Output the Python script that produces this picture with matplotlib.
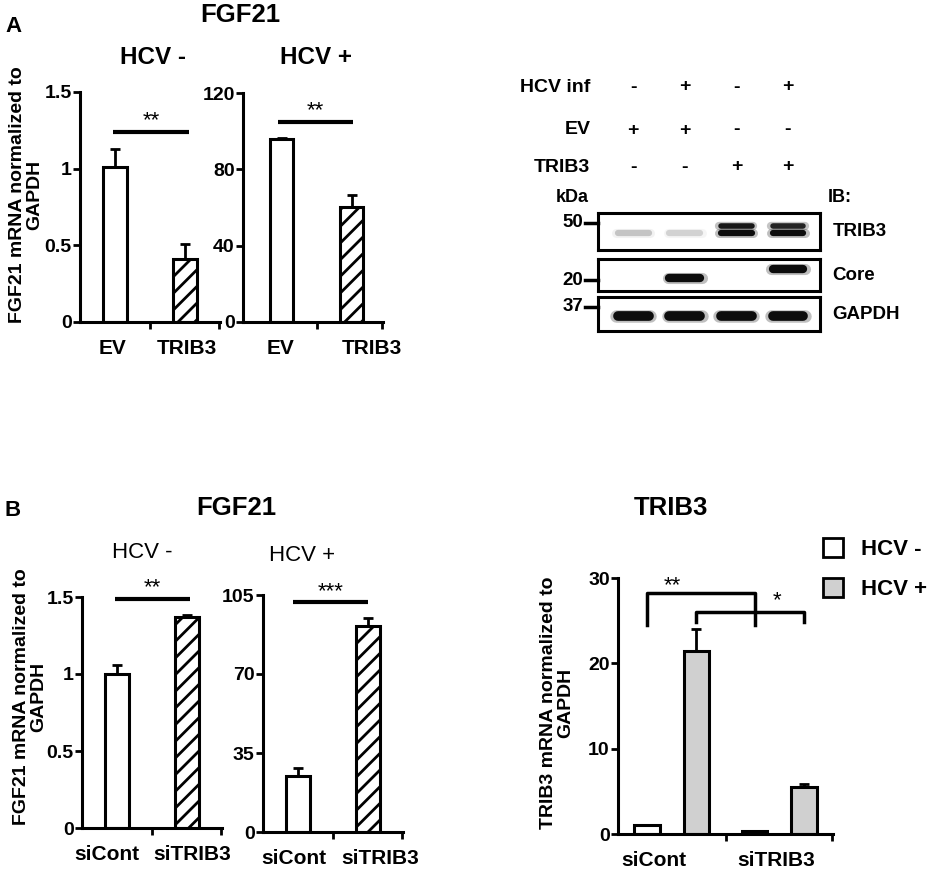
import matplotlib
matplotlib.use("Agg")
import matplotlib.pyplot as plt
from matplotlib.patches import Patch

plt.rcParams['font.family'] = ['Liberation Sans', 'DejaVu Sans']
plt.rcParams['font.weight'] = 'bold'
plt.rcParams['hatch.linewidth'] = 2.0

# ---- data ----
a_cats = ["EV", "TRIB3"]
a_neg_vals = [1.01, 0.41]
a_neg_err = [0.12, 0.10]
a_pos_vals = [96.0, 60.4]
a_pos_err = [0.6, 6.0]

b_cats = ["siCont", "siTRIB3"]
b_neg_vals = [1.0, 1.37]
b_neg_err = [0.06, 0.015]
b_pos_vals = [24.6, 91.2]
b_pos_err = [3.6, 3.4]

trib3_cats = ["siCont", "siTRIB3"]
trib3_neg = [1.0, 0.3]
trib3_neg_err = [0.08, 0.05]
trib3_pos = [21.4, 5.5]
trib3_pos_err = [2.6, 0.4]

# western blot: header rows and band intensities per lane
blot_rows = ["HCV inf", "EV", "TRIB3"]
blot_signs = [["-", "+", "-", "+"],
              ["+", "+", "-", "-"],
              ["-", "-", "+", "+"]]
trib3_upper = [0.0, 0.0, 0.95, 0.9]
trib3_lower = [0.2, 0.14, 1.0, 1.0]
core_band = [0.0, 1.0, 0.0, 1.0]
gapdh_band = [1.0, 1.0, 1.0, 1.0]
markers = ["50", "20", "37"]
blot_names = ["TRIB3", "Core", "GAPDH"]

W, H = 935, 871
fig = plt.figure(figsize=(W / 100, H / 100), dpi=100)


def px_axes(l, t, r, b):
    return fig.add_axes([l / W, 1 - b / H, (r - l) / W, (b - t) / H])


def fx(x):
    return x / W


def fy(y):
    return 1 - y / H


LW = 2.2
TICK_FS = 14
CAT_FS = 15


def style(ax, ymax, yticks, cats, labpos, xlim=(0, 2)):
    ax.set_xlim(*xlim)
    ax.set_ylim(0, ymax)
    for s in ["top", "right"]:
        ax.spines[s].set_visible(False)
    for s in ["left", "bottom"]:
        ax.spines[s].set_linewidth(LW)
    ax.set_yticks(yticks)
    ax.set_yticklabels([("%g" % t) for t in yticks], fontsize=TICK_FS, fontweight='bold')
    ax.tick_params(axis='y', direction='out', length=5, width=2, pad=1)
    ax.set_xticks(labpos)
    ax.set_xticklabels(cats, fontsize=CAT_FS, fontweight='bold')
    ax.tick_params(axis='x', which='major', length=0, pad=12)
    ax.set_xticks([1, xlim[1] - 0.01], minor=True)
    ax.tick_params(axis='x', which='minor', direction='out', length=5, width=2)
    ax.patch.set_alpha(0)


def fgf_panel(ax, vals, errs, ymax, yticks, cats, labpos, sig_y, sig_x, stars, star_y,
              xlim=(0, 2)):
    xpos = [0.5, 1.5]
    ax.bar(xpos, vals, width=0.33, color='white', edgecolor='black', linewidth=LW,
           hatch=['', '//'], zorder=2)
    ax.errorbar(xpos, vals, yerr=[[0, 0], errs], fmt='none', ecolor='black',
                elinewidth=2, capsize=3.5, capthick=2, zorder=1)
    ax.plot(sig_x, [sig_y, sig_y], color='black', lw=3, clip_on=False, solid_capstyle='butt')
    ax.text(sum(sig_x) / 2, star_y, stars, ha='center', va='center', fontsize=16,
            fontweight='normal', clip_on=False)
    style(ax, ymax, yticks, cats, labpos, xlim)


# ---- panel A bars ----
ax1 = px_axes(80, 92, 220, 322)
fgf_panel(ax1, a_neg_vals, a_neg_err, 1.5, [0, 0.5, 1, 1.5], a_cats, [0.46, 1.53],
          1.24, [0.47, 1.56], "**", 1.31)
ax2 = px_axes(243, 93, 383, 322)
fgf_panel(ax2, a_pos_vals, a_pos_err, 120, [0, 40, 80, 120], a_cats, [0.49, 1.79],
          105, [0.45, 1.52], "**", 110.5, xlim=(-0.05, 1.95))

# ---- panel B bars ----
ax3 = px_axes(82, 597, 222, 828)
fgf_panel(ax3, b_neg_vals, b_neg_err, 1.5, [0, 0.5, 1, 1.5], b_cats, [0.36, 1.57],
          1.49, [0.47, 1.54], "**", 1.56)
ax4 = px_axes(263, 595, 403, 832)
fgf_panel(ax4, b_pos_vals, b_pos_err, 105, [0, 35, 70, 105], b_cats, [0.44, 1.67],
          102, [0.43, 1.5], "***", 106.5)

# ---- TRIB3 grouped bars ----
ax5 = px_axes(618, 578, 833, 834)
centers = [0.5, 1.5]
off = 0.23
xn = [c - off for c in centers]
xp = [c + off for c in centers]
ax5.bar(xn, trib3_neg, width=0.24, color='white', edgecolor='black', linewidth=LW, zorder=2)
ax5.bar(xp, trib3_pos, width=0.24, color='#d0d0d0', edgecolor='black', linewidth=LW, zorder=2)
ax5.errorbar(xn, trib3_neg, yerr=[[0, 0], trib3_neg_err], fmt='none', ecolor='black',
             elinewidth=2, capsize=3.5, capthick=2, zorder=1)
ax5.errorbar(xp, trib3_pos, yerr=[[0, 0], trib3_pos_err], fmt='none', ecolor='black',
             elinewidth=2, capsize=3.5, capthick=2, zorder=1)
# significance brackets
ax5.plot([xn[0], xn[0], xn[1], xn[1]], [24.5, 28.2, 28.2, 24.5], color='black', lw=2.5)
ax5.plot([xp[0], xp[0], xp[1], xp[1]], [24.8, 26.0, 26.0, 24.8], color='black', lw=2.5)
ax5.text(0.51, 29.1, "**", ha='center', va='center', fontsize=16, fontweight='normal', clip_on=False)
ax5.text(1.48, 27.3, "*", ha='center', va='center', fontsize=16, fontweight='normal')
style(ax5, 30, [0, 10, 20, 30], trib3_cats, [0.33, 1.47])

fig.legend(handles=[Patch(facecolor='white', edgecolor='black', linewidth=2),
                    Patch(facecolor='#d0d0d0', edgecolor='black', linewidth=2)],
           labels=["HCV -", "HCV +"], loc='upper left',
           bbox_to_anchor=(fx(823), fy(538)), frameon=False, borderpad=0, borderaxespad=0,
           handlelength=0.9, handleheight=0.95, labelspacing=0.8, handletextpad=0.8,
           prop={'weight': 'bold', 'size': 16})

# ---- y labels ----
YL_FS = 14
fig.text(fx(26), fy(195), "FGF21 mRNA normalized to\nGAPDH", rotation=90, ha='center',
         va='center', fontsize=YL_FS, fontweight='bold', linespacing=1.05)
fig.text(fx(30), fy(697), "FGF21 mRNA normalized to\nGAPDH", rotation=90, ha='center',
         va='center', fontsize=YL_FS, fontweight='bold', linespacing=1.05)
fig.text(fx(557), fy(703), "TRIB3 mRNA normalized to\nGAPDH", rotation=90, ha='center',
         va='center', fontsize=YL_FS, fontweight='bold', linespacing=1.05)

# ---- titles ----
fig.text(fx(13), fy(27), "A", ha='center', va='center', fontsize=16, fontweight='bold')
fig.text(fx(13), fy(510), "B", ha='center', va='center', fontsize=16, fontweight='bold')
fig.text(fx(240), fy(15), "FGF21", ha='center', va='center', fontsize=18.5, fontweight='bold')
fig.text(fx(236), fy(508), "FGF21", ha='center', va='center', fontsize=18.5, fontweight='bold')
fig.text(fx(671), fy(508), "TRIB3", ha='center', va='center', fontsize=18.5, fontweight='bold')
fig.text(fx(153), fy(57), "HCV -", ha='center', va='center', fontsize=17.5, fontweight='bold')
fig.text(fx(316), fy(58), "HCV +", ha='center', va='center', fontsize=17.5, fontweight='bold')
fig.text(fx(142), fy(553), "HCV -", ha='center', va='center', fontsize=16, fontweight='normal')
fig.text(fx(302), fy(555), "HCV +", ha='center', va='center', fontsize=16, fontweight='normal')

# ---- western blot ----
lanes = [1, 2, 3, 4]
bxlim = (0.32, 4.62)
hdr = px_axes(598, 70, 820, 205)
hdr.set_xlim(*bxlim)
hdr.set_ylim(205, 70)
hdr.axis('off')
for row_y, name, signs in zip([87, 130, 167], blot_rows, blot_signs):
    hdr.text(0.17, row_y, name, ha='right', va='center', fontsize=14, fontweight='bold')
    for ln, s in zip(lanes, signs):
        hdr.text(ln, row_y, s, ha='center', va='center', fontsize=14, fontweight='bold')
hdr.text(0.14, 198, "kDa", ha='right', va='center', fontsize=13, fontweight='bold')
hdr.text(4.77, 198, "IB:", ha='left', va='center', fontsize=13, fontweight='bold')

strips = [(213, 250), (259, 291), (297, 331)]
strip_bands = [[(trib3_upper, 0.64, 4), (trib3_lower, 0.47, 4.5)],
               [(core_band, None, 6)],
               [(gapdh_band, 0.43, 7)]]
core_y = [0.42, 0.42, 0.42, 0.69]
marker_y = [0.73, 0.34, 0.71]
for (t, b), bands, mk, my, nm in zip(strips, strip_bands, markers, marker_y, blot_names):
    ax = px_axes(598, t, 820, b)
    ax.set_xlim(*bxlim)
    ax.set_ylim(0, 1)
    ax.set_xticks([])
    ax.set_yticks([])
    for s in ax.spines.values():
        s.set_linewidth(LW)
    for inten, yy, bw in bands:
        for ln, v in zip(lanes, inten):
            if v <= 0:
                continue
            y0 = yy if yy is not None else core_y[ln - 1]
            g = 1 - v
            ax.plot([ln - 0.33, ln + 0.33], [y0, y0], color=(g, g, g), lw=bw + 2,
                    alpha=0.25, solid_capstyle='round')
            ax.plot([ln - 0.3, ln + 0.3], [y0, y0], color=(g * 0.9 + 0.05,) * 3, lw=bw,
                    solid_capstyle='round')
    ax.plot([0.07, 0.32], [my, my], color='black', lw=2.5, clip_on=False)
    ax.text(0.03, my, mk, ha='right', va='center', fontsize=13.5, fontweight='bold')
    ax.text(4.86, 0.5, nm, ha='left', va='center', fontsize=13.5, fontweight='bold')

fig.savefig("out.png", dpi=100)
